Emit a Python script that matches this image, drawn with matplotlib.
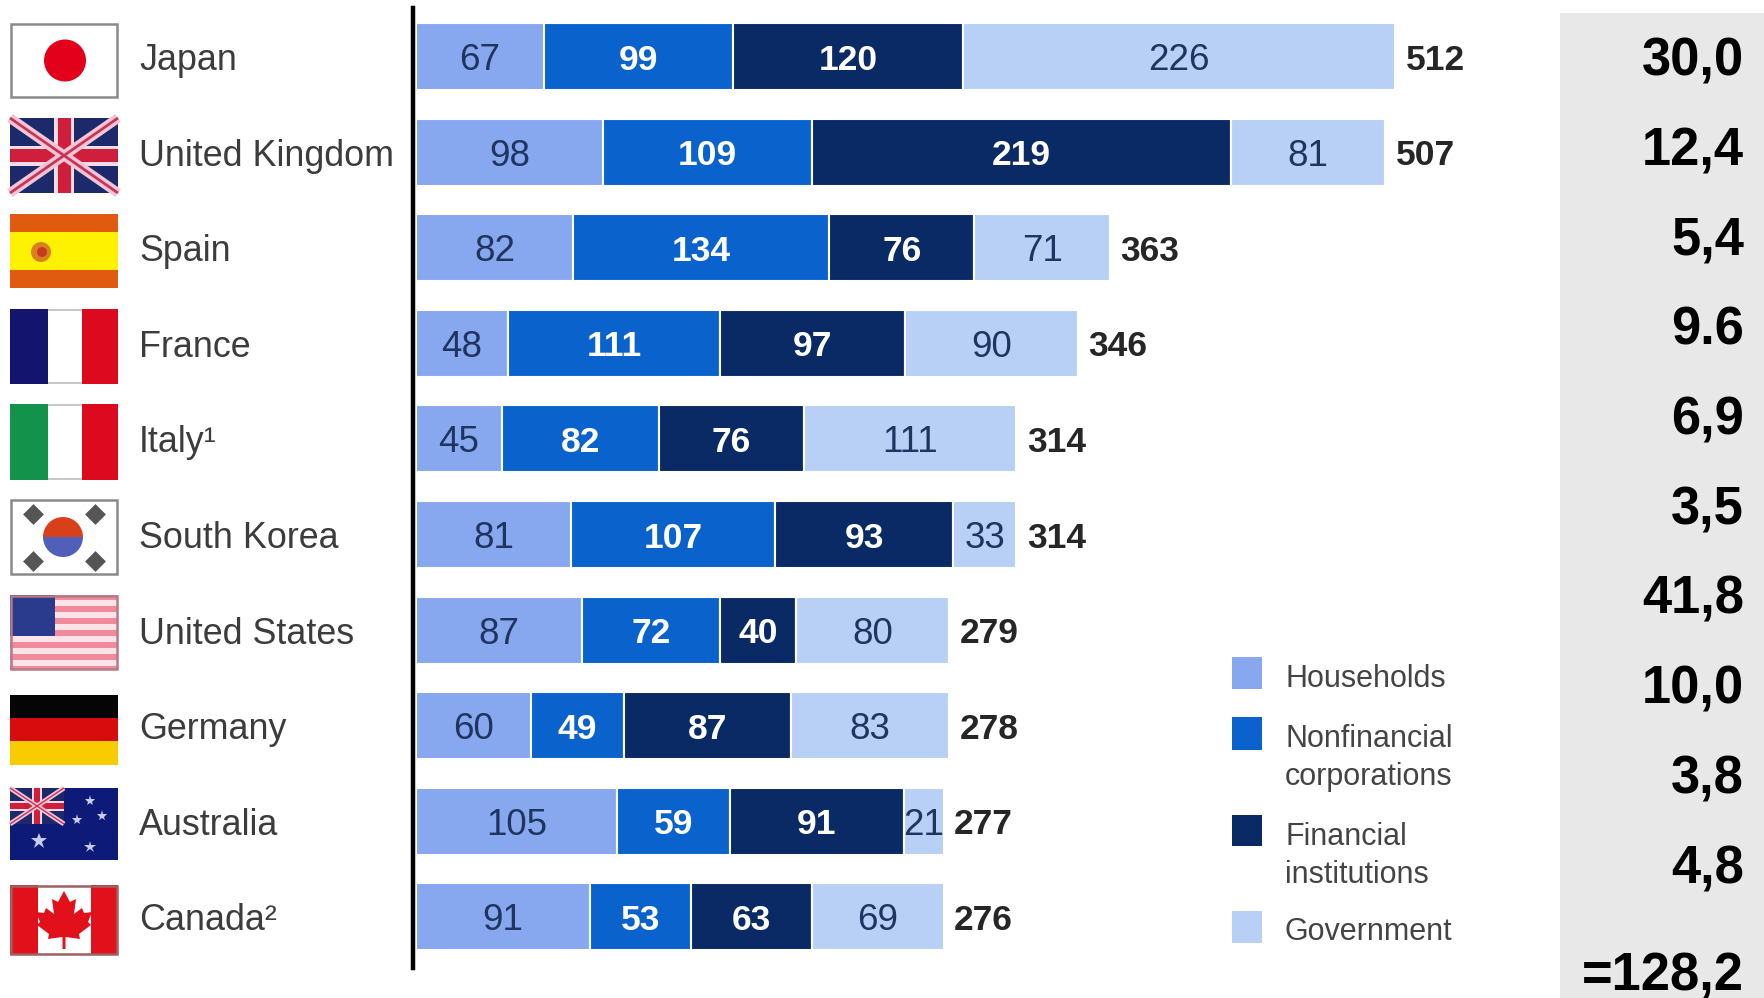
import matplotlib
matplotlib.use("Agg")
import matplotlib.pyplot as plt
from matplotlib.patches import Rectangle, Circle, Polygon, Wedge

plt.rcParams['font.family'] = ['Liberation Sans', 'DejaVu Sans']

countries = ['Japan', 'United Kingdom', 'Spain', 'France', 'Italy¹', 'South Korea',
             'United States', 'Germany', 'Australia', 'Canada²']
households = [67, 98, 82, 48, 45, 81, 87, 60, 105, 91]
nonfinancial = [99, 109, 134, 111, 82, 107, 72, 49, 59, 53]
financial = [120, 219, 76, 97, 76, 93, 40, 87, 91, 63]
government = [226, 81, 71, 90, 111, 33, 80, 83, 21, 69]
totals = [512, 507, 363, 346, 314, 314, 279, 278, 277, 276]
right_values = ['30,0', '12,4', '5,4', '9.6', '6,9', '3,5', '41,8', '10,0', '3,8', '4,8']
right_total = '=128,2'

series = [households, nonfinancial, financial, government]
series_colors = ['#87a7ef', '#0a62cc', '#0a2a66', '#b8cff6']
label_colors = ['#1f3560', 'white', 'white', '#1f3560']
label_weights = ['normal', 'bold', 'bold', 'normal']

W, H = 1764, 998
fig = plt.figure(figsize=(W / 100, H / 100), dpi=100)

# background layer, pixel coordinates
bg = fig.add_axes([0, 0, 1, 1])
bg.set_xlim(0, W)
bg.set_ylim(H, 0)
bg.axis('off')

# bars
px_per_unit = 1.912
left_px, right_px = 413, 1500
top_px, bottom_px = 8, 968
ax = fig.add_axes([left_px / W, 1 - bottom_px / H, (right_px - left_px) / W, (bottom_px - top_px) / H])
ax.patch.set_alpha(0)
ax.set_xlim(-(416 - left_px) / px_per_unit, (right_px - 416) / px_per_unit)
row = 95.6
ax.set_ylim((bottom_px - 56.5) / row, (top_px - 56.5) / row)

y = list(range(len(countries)))
left = [0] * len(countries)
for vals, col, lc, lw_ in zip(series, series_colors, label_colors, label_weights):
    bars = ax.barh(y, vals, left=left, height=0.7, color=col, edgecolor='white', linewidth=1.5)
    labs = ax.bar_label(bars, labels=[str(v) for v in vals], label_type='center', color=lc,
                        fontsize=26.5 if lw_ == 'normal' else 25.5, fontweight=lw_)
    for t in labs:
        t.set_va('center_baseline')
    left = [a + b for a, b in zip(left, vals)]

for yy, end, t in zip(y, left, totals):
    ax.text(end + 5.5, yy, str(t), va='center_baseline', ha='left', fontsize=25.5, fontweight='bold', color='#262626')

for s in ['top', 'right', 'bottom']:
    ax.spines[s].set_visible(False)
ax.spines['left'].set_linewidth(3.2)
ax.spines['left'].set_color('black')
ax.set_xticks([])
ax.set_yticks(y)
ax.set_yticklabels(countries, ha='left', fontsize=25.8, color='#3c3c3c')
ax.tick_params(axis='y', length=0, pad=(left_px - 139) * 0.72)

# grey panel on the right
bg.add_patch(Rectangle((1560, 13), W - 1560, H - 13, color='#e8e8e8', lw=0))
panel_y = [56, 146, 235, 325, 415, 505, 594, 684, 774, 864]
for py, t in zip(panel_y, right_values):
    bg.text(1744, py, t, ha='right', va='center_baseline', fontsize=37.8, fontweight='bold', color='black')
bg.text(1744, 971, right_total, ha='right', va='center_baseline', fontsize=37.8, fontweight='bold', color='black')

# legend
legend_items = [('Households', 657, 689, 679),
                ('Nonfinancial\ncorporations', 717, 750, 758),
                ('Financial\ninstitutions', 815, 846, 856),
                ('Government', 911, 943, 932)]
for (name, y0, y1, ty), col in zip(legend_items, series_colors):
    bg.add_patch(Rectangle((1232, y0), 30, y1 - y0, color=col, lw=0))
    bg.text(1285, ty, name, ha='left', va='center', fontsize=22, color='#444444', linespacing=1.34)


# flags
FX0, FX1 = 10, 118


def rect(x0, y0, x1, y1, c):
    bg.add_patch(Rectangle((x0, y0), x1 - x0, y1 - y0, color=c, lw=0))


def frame(y0, y1, c='#8a8a8a'):
    bg.add_patch(Rectangle((FX0 + 1, y0 + 1), FX1 - FX0 - 2, y1 - y0 - 2, fill=False, ec=c, lw=1.8))


def union_jack(x0, y0, x1, y1, scale=1.0):
    rect(x0, y0, x1, y1, '#1c2a6b')
    bg.plot([x0, x1], [y0, y1], color='#f3c6d6', lw=7 * scale, solid_capstyle='butt')
    bg.plot([x0, x1], [y1, y0], color='#f3c6d6', lw=7 * scale, solid_capstyle='butt')
    bg.plot([x0, x1], [y0, y1], color='#c9345a', lw=2 * scale, solid_capstyle='butt')
    bg.plot([x0, x1], [y1, y0], color='#c9345a', lw=2 * scale, solid_capstyle='butt')
    mx, my = (x0 + x1) / 2, (y0 + y1) / 2
    t = 10 * scale
    rect(mx - t, y0, mx + t, y1, '#f6dbe3')
    rect(x0, my - t, x1, my + t, '#f6dbe3')
    t = 6.5 * scale
    rect(mx - t, y0, mx + t, y1, '#cf1f3c')
    rect(x0, my - t, x1, my + t, '#cf1f3c')


# Japan
frame(23, 98)
bg.add_patch(Circle((65, 60.5), 21, color='#e2001a', lw=0))

# UK
union_jack(FX0, 118, FX1, 193)

# Spain
rect(FX0, 214, FX1, 288, '#e05a10')
rect(FX0, 232, FX1, 270, '#fff200')
bg.add_patch(Circle((41, 252), 10, color='#d9801f', lw=0))
bg.add_patch(Circle((42, 252), 5, color='#c83a20', lw=0))

# France
rect(FX0, 309, 48, 384, '#12146e')
rect(82, 309, FX1, 384, '#dc0a1e')
rect(48, 309, 82, 311, '#c8c8c8')
rect(48, 382, 82, 384, '#c8c8c8')

# Italy
rect(FX0, 404, 48, 480, '#12924a')
rect(82, 404, FX1, 480, '#dc0a1e')
rect(48, 404, 82, 406, '#c8c8c8')
rect(48, 478, 82, 480, '#c8c8c8')

# South Korea
frame(499, 575)
bg.add_patch(Wedge((63, 537), 20, 180, 360, color='#d8401a', lw=0))
bg.add_patch(Wedge((63, 537), 20, 0, 180, color='#5060b8', lw=0))
for cx, cy in [(33, 514), (95, 514), (33, 561), (95, 561)]:
    bg.plot([cx], [cy], marker=(4, 0, 0), ms=15, color='#555555', mew=0)

# US
rect(FX0, 595, FX1, 670, '#f08a9c')
for i in range(6):
    rect(FX0, 600 + i * 12, FX1, 606 + i * 12, '#fde4e8')
rect(FX0, 595, 55, 636, '#2a3a8c')
frame(595, 670, '#b57a86')

# Germany
rect(FX0, 695, FX1, 718, '#050505')
rect(FX0, 718, FX1, 741, '#d80c0c')
rect(FX0, 741, FX1, 765, '#f8cc00')

# Australia
rect(FX0, 788, FX1, 860, '#0e1a78')
union_jack(FX0, 788, 64, 824, 0.5)
for sx, sy, ms in [(39, 841, 12), (90, 801, 8), (77, 820, 8), (102, 816, 8), (90, 847, 9)]:
    bg.plot([sx], [sy], marker='*', ms=ms, color='#c8ccf0', mew=0)

# Canada
rect(FX0, 885, 38, 955, '#e2101a')
rect(91, 885, FX1, 955, '#e2101a')
leaf = [(64, 891), (70, 902), (76, 899), (74, 914), (82, 908), (84, 913), (92, 912), (88, 922), (91, 925),
        (79, 934), (80, 939), (65.5, 937), (65.5, 949), (62.5, 949), (62.5, 937), (48, 939), (49, 934),
        (37, 925), (40, 922), (36, 912), (44, 913), (46, 908), (54, 914), (52, 899), (58, 902)]
bg.add_patch(Polygon(leaf, closed=True, color='#e2101a', lw=0))
frame(885, 955, '#a06060')

fig.savefig('out.png', dpi=100, facecolor='white')
